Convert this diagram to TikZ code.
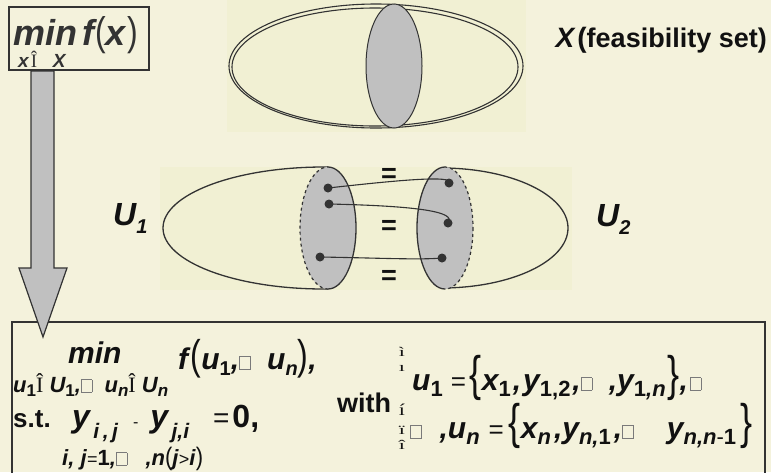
\documentclass[tikz,border=0pt]{standalone}
\usepackage{fontspec}
\setmainfont{Liberation Sans}
\newfontfamily\serifx{Liberation Serif}
\definecolor{bg}{HTML}{F4F2DC}
\definecolor{imgbg}{HTML}{F1F0D3}
\definecolor{lensgray}{HTML}{C0C0C0}
\definecolor{ink}{HTML}{333333}
\definecolor{txt}{HTML}{111111}
\definecolor{boxgray}{HTML}{7A7A7A}
\newcommand\fs[1]{\fontsize{#1}{#1}\selectfont}
\newcommand\bix{\bfseries\itshape}
\newcommand\lo[3]{\raisebox{-#1pt}{\fs{#2}#3}}
\newcommand\thin[3]{\textnormal{\fs{#1}\scalebox{1}[#2]{#3}}}
\newcommand\gbox{\textcolor{boxgray}{\fboxsep=0pt\fboxrule=0.7pt\fbox{\rule{0pt}{12pt}\hspace{10pt}}}}
\newcommand\ssym{\textnormal{\serifx Î}}
\newcommand\up[1]{\textup{#1}}
\tikzset{
  outline/.style={draw=ink,line width=1.2pt},
  lensfill/.style={fill=lensgray},
  dotnode/.style={circle,fill=ink,inner sep=0pt,minimum size=9pt},
  link/.style={draw=ink,line width=1.1pt},
  txtnode/.style={inner sep=0pt,anchor=base west,text=txt},
  eqsign/.style={inner sep=0pt,text=txt,font=\fs{27}\bfseries},
  brc/.style={inner sep=0pt,anchor=base,text=txt,font=\fs{22}\serifx}
}
\begin{document}
\begin{tikzpicture}[x=1pt,y=-1pt]
\fill[bg] (0,0) rectangle (771,472);
\useasboundingbox (0,0) rectangle (771,472);

% ---------- top box ----------
\draw[outline] (9,7) rectangle (149,70);
\node[txtnode,text=ink] (minfx) at (13,45) {\fs{36}\bix min\kern5pt f\kern1pt\thin{32}{1.25}{(}x\thin{32}{1.25}{)}};
\node[txtnode,text=ink] (minsub) at (18,67) {\fs{19}\bix x\kern2pt\ssym\ \ \ X};

% ---------- top ellipse ----------
\fill[imgbg] (227,0) rectangle (526,132);
\draw[ink,line width=1.1pt] (376,66) ellipse [x radius=147,y radius=62];
\draw[ink,line width=1.1pt] (375,67) ellipse [x radius=143,y radius=59];
\draw[ink,line width=1pt,lensfill] (394,66) ellipse [x radius=28,y radius=62];
\node[txtnode,anchor=base east] (xfeas) at (767,47) {\fs{28}\bix X\kern3pt\textnormal{\bfseries\fs{28}(\fs{27}feasibility set)}};

% ---------- middle U1/U2 ----------
\fill[imgbg] (160,167) rectangle (572,290);
\begin{scope}
  \clip (150,150) rectangle (328,300);
  \draw[ink,line width=1.3pt] (324,228) ellipse [x radius=161,y radius=61];
\end{scope}
\begin{scope}
  \clip (445,150) rectangle (600,300);
  \draw[ink,line width=1.3pt] (441,228) ellipse [x radius=127,y radius=60];
\end{scope}
% left lens
\fill[lensgray] (328,228) ellipse [x radius=28,y radius=61];
\begin{scope}
  \clip (290,150) rectangle (328,300);
  \draw[ink,line width=1.2pt,dashed] (328,228) ellipse [x radius=28,y radius=61];
\end{scope}
\begin{scope}
  \clip (328,150) rectangle (370,300);
  \draw[ink,line width=1.3pt] (328,228) ellipse [x radius=28,y radius=61];
\end{scope}
% right lens
\fill[lensgray] (445,228) ellipse [x radius=28,y radius=61];
\begin{scope}
  \clip (410,150) rectangle (445,300);
  \draw[ink,line width=1.3pt] (445,228) ellipse [x radius=28,y radius=61];
\end{scope}
\begin{scope}
  \clip (445,150) rectangle (480,300);
  \draw[ink,line width=1.2pt,dashed] (445,228) ellipse [x radius=28,y radius=61];
\end{scope}
% dots and links
\node[dotnode] (l1) at (328,188) {};
\node[dotnode] (l2) at (329,204) {};
\node[dotnode] (l3) at (320,257) {};
\node[dotnode] (r1) at (449,183) {};
\node[dotnode] (r2) at (448,223) {};
\node[dotnode] (r3) at (442,258) {};
\draw[link] (l1.center) .. controls (400,180) and (454,175) .. (r1.center);
\draw[link] (l2.center) .. controls (420,206) and (457,212) .. (r2.center);
\draw[link] (l3.center) .. controls (380,258) and (420,260) .. (r3.center);
\node[eqsign] (eq1) at (389,175) {=};
\node[eqsign] (eq2) at (389,227) {=};
\node[eqsign] (eq3) at (389,277) {=};
\node[txtnode] (u1lab) at (113,225) {\fs{32}\bix U\lo{8}{20}{1}};
\node[txtnode] (u2lab) at (596,226) {\fs{32}\bix U\lo{8}{20}{2}};

% ---------- bottom box ----------
\draw[outline] (12,480) -- (12,322) -- (765,322) -- (765,480);

% ---------- arrow ----------
\draw[outline,lensfill,line join=miter] (31,71) -- (54,71) -- (54,268) -- (67,268) -- (43,337) -- (19,268) -- (31,268) -- cycle;

% ---------- bottom texts ----------
\node[txtnode] (bmin) at (68,363) {\fs{30}\bix min};
\node[txtnode] (bsub) at (13,392) {\fs{22}\bix u\lo{4}{17}{\up{1}}\ssym\ U\lo{4}{17}{\up{1}},\gbox\ \ u\lo{4}{17}{n}\ssym\ U\lo{4}{17}{n}};
\node[txtnode] (bfun) at (178,369) {\fs{30}\bix f\thin{32}{1.3}{(}u\lo{6}{20}{\up{1}},\gbox\ \ u\lo{6}{20}{n}\thin{32}{1.3}{)},};
\node[txtnode] (st) at (13,427) {\fs{26}\bfseries s.t.};
\node[txtnode] (cons) at (72,427) {\fs{32}\bix y\lo{11}{21}{\,i\,,\,j}\hspace{15pt}\textnormal{\fs{16}-}\hspace{12pt}y\lo{11}{21}{\,j,i}\hspace{24pt}\textnormal{\fs{28}=}\kern3pt\textup{0,}};
\node[txtnode] (idx) at (62,465) {\fs{22}\bix i, j\textnormal{\fs{18}=}\up{1},\gbox\ \ \ ,n\thin{22}{1.15}{(}j\textnormal{\fs{18}>}i\thin{22}{1.15}{)}};
\node[txtnode] (with) at (337,412) {\fs{27}\bfseries with};
\node[brc] (b1) at (402,356) {\scalebox{1}[0.6]{ì}};
\node[brc] (b2) at (402,371) {\scalebox{1}[0.6]{ı}};
\node[brc] (b3) at (402,415) {\scalebox{1}[0.75]{í}};
\node[brc] (b4) at (402,434) {\scalebox{1}[0.6]{ï}};
\node[brc] (b5) at (402,449) {\scalebox{1}[0.6]{î}};
\node[txtnode] (u1set) at (412,390) {\fs{30}\bix u\lo{6}{22}{\up{1}}\hspace{8pt}\textnormal{\fs{26}=}\hspace{4pt}\thin{36}{1.35}{\{}x\lo{6}{22}{\up{1}}\kern2pt,\kern2pt y\lo{6}{22}{\up{1,2}}\kern2pt,\gbox\ \ ,y\lo{6}{22}{\up{1},n}\kern2pt\thin{36}{1.35}{\}},\kern2pt\gbox};
\node[txtnode] (unset) at (410,438) {\fs{30}\bix \gbox\hspace{18pt},u\lo{6}{22}{n}\hspace{9pt}\textnormal{\fs{26}=}\hspace{5pt}\thin{36}{1.35}{\{}x\lo{6}{22}{n}\kern3pt,y\lo{6}{22}{n,\up{1}}\kern3pt,\gbox\ \ \ \ y\lo{6}{22}{n,n\textnormal{-}\up{1}}\kern4pt\thin{36}{1.35}{\}}};
\end{tikzpicture}
\end{document}
